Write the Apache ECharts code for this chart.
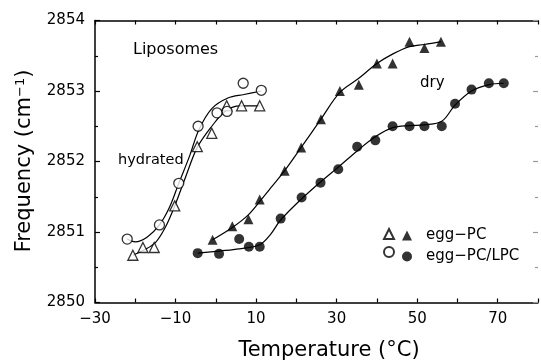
<!DOCTYPE html>
<html>
<head>
<meta charset="utf-8">
<script src="https://cdn.jsdelivr.net/npm/echarts@6/dist/echarts.min.js"></script>
<style>
  html, body { margin: 0; padding: 0; background: #fff; }
  #chart { width: 541px; height: 361px; }
</style>
</head>
<body>
<div id="chart"></div>
<script>
// CH2 stretching frequency of liposomes versus temperature.

// Hydrated egg-PC (open triangles)
const hydPC_T = [-20.6, -18.1, -15.3, -10.2, -4.6, -1.0, 2.7, 6.4, 10.9];
const hydPC_F = [2850.67, 2850.78, 2850.78, 2851.37, 2852.21, 2852.40, 2852.79, 2852.79, 2852.79];

// Hydrated egg-PC/LPC (open circles)
const hydLPC_T = [-22.0, -14.0, -9.2, -4.4, 0.3, 2.8, 6.8, 11.3];
const hydLPC_F = [2850.90, 2851.10, 2851.69, 2852.50, 2852.69, 2852.71, 2853.11, 2853.01];

// Dry egg-PC (filled triangles)
const dryPC_T = [-0.8, 4.1, 8.1, 10.9, 17.1, 21.2, 26.1, 30.8, 35.5, 40.0, 43.9, 48.1, 51.8, 55.9];
const dryPC_F = [2850.89, 2851.08, 2851.18, 2851.46, 2851.87, 2852.20, 2852.60, 2853.00, 2853.09, 2853.39, 2853.39, 2853.70, 2853.61, 2853.70];

// Dry egg-PC/LPC (filled circles)
const dryLPC_T = [-4.5, 0.8, 5.8, 8.2, 10.9, 16.1, 21.3, 26.0, 30.4, 35.1, 39.6, 43.9, 48.1, 51.8, 56.1, 59.4, 63.5, 67.8, 71.5];
const dryLPC_F = [2850.70, 2850.69, 2850.90, 2850.79, 2850.79, 2851.19, 2851.49, 2851.70, 2851.89, 2852.21, 2852.30, 2852.50, 2852.50, 2852.50, 2852.50, 2852.82, 2853.02, 2853.11, 2853.11];

// Smooth trend curves drawn through each data set
const fitHydPC_T = [-20.6, -18, -15, -12.5, -10.2, -7.5, -4.6, -1, 2.5, 6, 10.9];
const fitHydPC_F = [2850.67, 2850.74, 2850.85, 2851.07, 2851.37, 2851.78, 2852.20, 2852.50, 2852.72, 2852.79, 2852.79];

const fitHydLPC_T = [-22, -20, -17, -14, -11.5, -9.2, -6.5, -4.2, -1, 3, 7, 11.3];
const fitHydLPC_F = [2850.90, 2850.86, 2850.93, 2851.10, 2851.35, 2851.69, 2852.08, 2852.45, 2852.75, 2852.90, 2852.95, 2853.00];

const fitDryPC_T = [-0.8, 4, 8, 11, 14, 17.1, 21.2, 26.1, 30.8, 35.5, 40, 44.1, 48.1, 51.8, 55.9];
const fitDryPC_F = [2850.89, 2851.06, 2851.24, 2851.44, 2851.65, 2851.87, 2852.20, 2852.60, 2852.98, 2853.18, 2853.39, 2853.53, 2853.63, 2853.66, 2853.70];

const fitDryLPC_T = [-4.5, 0.8, 5.8, 10.9, 13.5, 16.1, 21.3, 26, 30.4, 35.1, 39.6, 43.9, 48.1, 51.8, 56.1, 59.4, 63.5, 67.8, 71.5];
const fitDryLPC_F = [2850.70, 2850.73, 2850.76, 2850.82, 2850.96, 2851.17, 2851.47, 2851.71, 2851.92, 2852.15, 2852.35, 2852.48, 2852.51, 2852.52, 2852.57, 2852.80, 2853.00, 2853.09, 2853.11];

// Axis settings
const xMin = -30, xMax = 80, xStep = 10;
const xLabelValues = [-30, -10, 10, 30, 50, 70];
const yMin = 2850, yMax = 2854, yStep = 1;

const FONT = 'DejaVu Sans';
const INK = '#000';

const pairs = (xs, ys) => xs.map((x, i) => [x, ys[i]]);
const fmtNum = v => (v < 0 ? '\u2212' + Math.abs(v) : String(v));

const chart = echarts.init(document.getElementById('chart'), null, { renderer: 'canvas' });

const axisLine = { show: true, onZero: false, lineStyle: { color: INK, width: 1.5 } };
const tickStyle = { color: INK, width: 1.2 };

function xAxisCfg(pos, labels) {
  return {
    type: 'value', position: pos, min: xMin, max: xMax, interval: xStep,
    axisLine: axisLine,
    axisTick: { show: true, inside: true, length: 4, lineStyle: tickStyle },
    axisLabel: {
      show: labels, color: INK, fontFamily: FONT, fontSize: 15, margin: 9,
      formatter: v => (xLabelValues.indexOf(v) >= 0 ? fmtNum(v) : '')
    },
    splitLine: { show: false }
  };
}
function yAxisCfg(pos, labels, lineShown, tickColor) {
  const ts = { color: tickColor, width: 1.2 };
  return {
    type: 'value', position: pos, min: yMin, max: yMax, interval: yStep,
    axisLine: { show: lineShown, onZero: false, lineStyle: { color: INK, width: 1.5 } },
    axisTick: { show: true, inside: true, length: 5, lineStyle: ts },
    minorTick: { show: true, splitNumber: 2, length: 3, lineStyle: ts },
    axisLabel: {
      show: labels, color: INK, fontFamily: FONT, fontSize: 15, margin: 10,
      formatter: v => String(v)
    },
    splitLine: { show: false }
  };
}

function fitLine(name, xs, ys) {
  return {
    name: name, type: 'line', data: pairs(xs, ys), smooth: 0.35,
    showSymbol: false, silent: true, z: 2,
    lineStyle: { color: INK, width: 1.2 }
  };
}
function marks(name, xs, ys, symbol, open) {
  return {
    name: name, type: 'scatter', data: pairs(xs, ys), symbol: symbol,
    symbolSize: 10, z: 5,
    itemStyle: open
      ? { color: '#fff', borderColor: INK, borderWidth: 1.3 }
      : { color: INK, borderColor: INK, borderWidth: 0 }
  };
}

const NAME_HPC = 'egg\u2212PC (hydrated)';
const NAME_HLPC = 'egg\u2212PC/LPC (hydrated)';
const NAME_DPC = 'egg\u2212PC';
const NAME_DLPC = 'egg\u2212PC/LPC';

const legendText = { color: INK, fontFamily: FONT, fontSize: 15, lineHeight: 14 };

const option = {
  animation: false,
  backgroundColor: '#fff',
  grid: { left: 95, top: 20.5, width: 448, height: 282, containLabel: false },
  xAxis: [xAxisCfg('bottom', true), xAxisCfg('top', false)],
  yAxis: [yAxisCfg('left', true, true, INK), yAxisCfg('right', false, false, '#999')],
  legend: [
    {
      orient: 'vertical', left: 383, top: 228, padding: 0,
      itemWidth: 10, itemHeight: 10, itemGap: 6, selectedMode: false,
      data: [{ name: NAME_HPC, icon: 'triangle' }, { name: NAME_HLPC, icon: 'circle' }],
      formatter: () => '', textStyle: legendText
    },
    {
      orient: 'vertical', left: 402, top: 228, padding: 0,
      itemWidth: 10, itemHeight: 10, itemGap: 6, selectedMode: false,
      data: [{ name: NAME_DPC, icon: 'triangle' }, { name: NAME_DLPC, icon: 'circle' }],
      textStyle: Object.assign({ padding: [0, 0, 0, 9] }, legendText)
    }
  ],
  graphic: [
    { type: 'text', x: 133, y: 50, style: { text: 'Liposomes', fill: INK, font: '16px "DejaVu Sans"', verticalAlign: 'middle' } },
    { type: 'text', x: 118, y: 160, style: { text: 'hydrated', fill: INK, font: '14.5px "DejaVu Sans"', verticalAlign: 'middle' } },
    { type: 'text', x: 420, y: 83, style: { text: 'dry', fill: INK, font: '15px "DejaVu Sans"', verticalAlign: 'middle' } },
    {
      type: 'text', x: 329, y: 351,
      style: { text: 'Temperature (\u00B0C)', fill: INK, font: '21px "DejaVu Sans"', align: 'center', verticalAlign: 'middle' }
    },
    {
      type: 'text', x: 25, y: 161, rotation: Math.PI / 2,
      style: {
        text: 'Frequency (cm{sup|\u22121})', fill: INK, font: '21px "DejaVu Sans"',
        align: 'center', verticalAlign: 'middle',
        rich: { sup: { fontSize: 13, fontFamily: FONT, verticalAlign: 'top', fill: INK, padding: [0, 0, 8, 0] } }
      }
    }
  ],
  series: [
    fitLine('fit hydrated egg-PC', fitHydPC_T, fitHydPC_F),
    fitLine('fit hydrated egg-PC/LPC', fitHydLPC_T, fitHydLPC_F),
    fitLine('fit dry egg-PC', fitDryPC_T, fitDryPC_F),
    fitLine('fit dry egg-PC/LPC', fitDryLPC_T, fitDryLPC_F),
    marks(NAME_HPC, hydPC_T, hydPC_F, 'triangle', true),
    marks(NAME_HLPC, hydLPC_T, hydLPC_F, 'circle', true),
    marks(NAME_DPC, dryPC_T, dryPC_F, 'triangle', false),
    marks(NAME_DLPC, dryLPC_T, dryLPC_F, 'circle', false)
  ]
};

chart.setOption(option);
</script>
</body>
</html>
